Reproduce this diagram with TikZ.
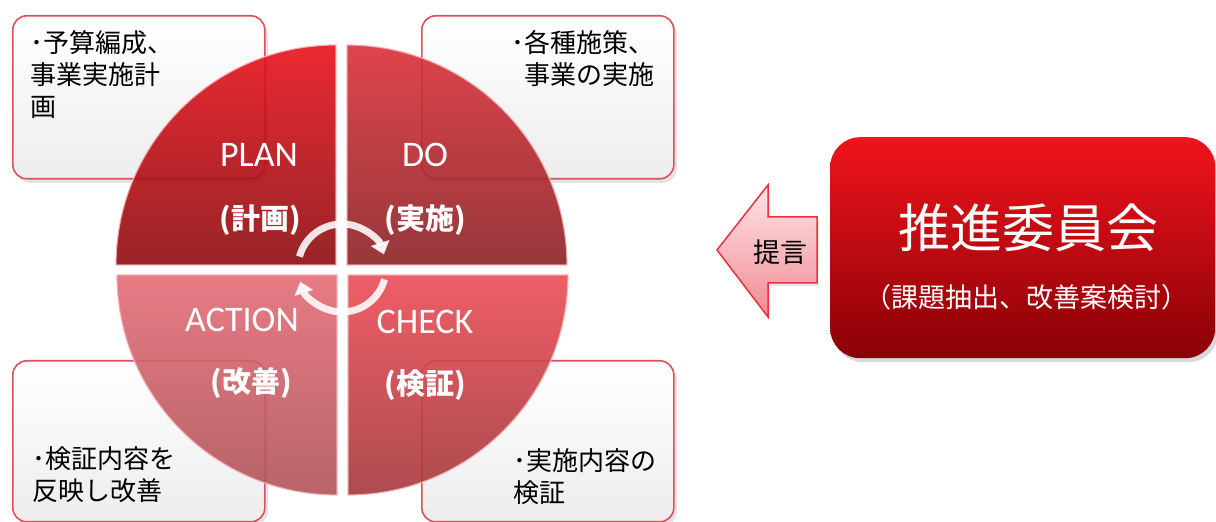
\documentclass[tikz,border=0pt]{standalone}
\usepackage{fontspec}
\setmainfont{Carlito}
\newfontfamily\jp{Noto Sans CJK JP}
\usetikzlibrary{arrows.meta,shadows}
\definecolor{boxred}{HTML}{E0505C}
\definecolor{boxgray}{HTML}{EDEDED}
\definecolor{quadedge}{HTML}{F4B0B6}
\definecolor{planT}{HTML}{E8121C}
\definecolor{planB}{HTML}{8C0C10}
\definecolor{doT}{HTML}{DC3038}
\definecolor{doB}{HTML}{8A2226}
\definecolor{actT}{HTML}{E46C76}
\definecolor{actB}{HTML}{B0545A}
\definecolor{chkT}{HTML}{EC4C56}
\definecolor{chkB}{HTML}{A4383C}
\definecolor{bigT}{HTML}{F0141C}
\definecolor{bigB}{HTML}{8A0006}
\definecolor{arrT}{HTML}{FFE4E7}
\definecolor{arrB}{HTML}{F08A94}
\definecolor{arrEdge}{HTML}{E53440}
\definecolor{cycEdge}{HTML}{F2B8BE}
\begin{document}
\begin{tikzpicture}[x=1pt,y=1pt,
  infobox/.style={draw=boxred, line width=1.6pt, rounded corners=14pt,
    top color=white, bottom color=boxgray, inner sep=0pt,
    drop shadow={opacity=0.22,shadow xshift=3pt,shadow yshift=-4pt}},
  quad/.style={draw=quadedge, line width=1.2pt, fill opacity=0.9, draw opacity=0.9},
  qlabel/.style={text=white, font=\fontsize{36}{40}\selectfont, inner sep=0pt},
  qsub/.style={text=white, font=\jp\bfseries\fontsize{29}{32}\selectfont, inner sep=0pt},
  boxtext/.style={font=\jp\fontsize{26}{32}\selectfont, text=black, inner sep=0pt},
  cycarrow/.style={draw=white, line width=7pt, draw opacity=0.88, fill opacity=0.88,
    -{Triangle[width=19pt,length=12pt]}},
  bigbox/.style={rounded corners=30pt, top color=bigT, bottom color=bigB, inner sep=0pt,
    drop shadow={opacity=0.3,shadow xshift=3pt,shadow yshift=-4pt}},
]
\useasboundingbox (0,0) rectangle (1216,522);

% info boxes
\node[infobox, minimum width=252pt, minimum height=163pt, anchor=north west] (tlbox) at (12,507) {};
\node[infobox, minimum width=252pt, minimum height=163pt, anchor=north west] (trbox) at (421,507) {};
\node[infobox, minimum width=252pt, minimum height=161pt, anchor=north west] (blbox) at (12,162) {};
\node[infobox, minimum width=252pt, minimum height=161pt, anchor=north west] (brbox) at (421,162) {};

\node[boxtext, anchor=north west, align=left] (tltext) at (30,492) {･予算編成、\\事業実施計\\画};
\node[boxtext, anchor=north east, align=right] (trtext) at (655,492) {･各種施策、\\事業の実施};
\node[boxtext, anchor=north west, align=left] (bltext) at (32,76) {･検証内容を\\反映し改善};
\node[boxtext, anchor=north west, align=left] (brtext) at (513,74) {･実施内容の\\検証};

% quadrants
\path[quad, top color=planT, bottom color=planB] (336,257) -- (116,257) arc[start angle=180,end angle=90,radius=220] -- cycle;
\path[quad, top color=doT, bottom color=doB] (347,257) -- (347,477) arc[start angle=90,end angle=0,radius=220] -- cycle;
\path[quad, top color=actT, bottom color=actB] (337,247) -- (117,247) arc[start angle=180,end angle=270,radius=220] -- cycle;
\path[quad, top color=chkT, bottom color=chkB] (348,247) -- (348,27) arc[start angle=270,end angle=360,radius=220] -- cycle;

\node[qlabel] (plan) at (259,367) {PLAN};
\node[qsub] (plansub) at (260,302) {(計画)};
\node[qlabel] (do) at (425,367) {DO};
\node[qsub] (dosub) at (425,302) {(実施)};
\node[qlabel] (act) at (242,202) {ACTION};
\node[qsub] (actsub) at (251,139) {(改善)};
\node[qlabel] (chk) at (425,200) {CHECK};
\node[qsub] (chksub) at (425,137) {(検証)};

% cycle arrows
\coordinate (cyc) at (342,254);
\draw[cycarrow] ([shift={(165:44)}]cyc) arc[start angle=165,end angle=18,radius=44];
\draw[cycarrow] ([shift={(345:44)}]cyc) arc[start angle=345,end angle=198,radius=44];

% committee box
\node[bigbox, minimum width=385pt, minimum height=221pt, anchor=north west] (committee) at (830,385) {};
\node[font=\jp\fontsize{52}{56}\selectfont, text=white, inner sep=0pt] (cname) at (1028,294) {推進委員会};
\node[font=\jp\fontsize{27}{30}\selectfont, text=white, inner sep=0pt] (csub) at (1026,225) {（課題抽出、改善案検討）};

% proposal arrow
\path[draw=arrEdge, line width=1.5pt, top color=arrT, bottom color=arrB,
  drop shadow={opacity=0.2,shadow xshift=2pt,shadow yshift=-3pt}]
  (717,272) -- (768,337) -- (768,305) -- (817,305) -- (817,239) -- (768,239) -- (768,205) -- cycle;
\node[font=\jp\fontsize{27}{30}\selectfont, inner sep=0pt] (teigen) at (780,270) {提言};
\end{tikzpicture}
\end{document}
